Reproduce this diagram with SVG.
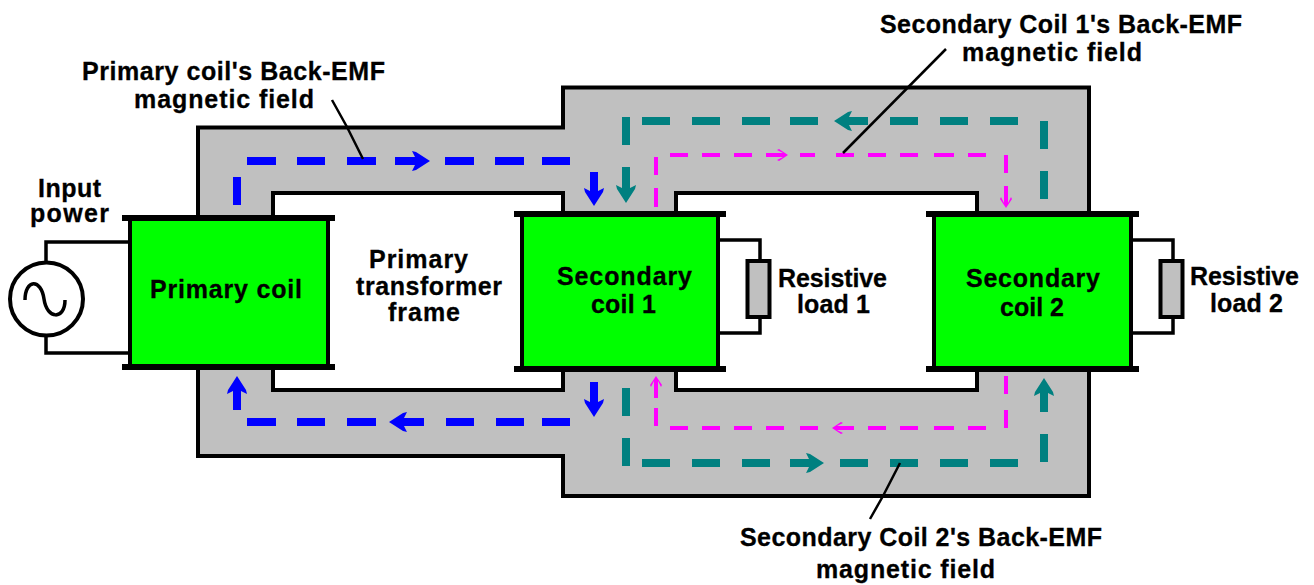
<svg xmlns="http://www.w3.org/2000/svg" width="1314" height="585" viewBox="0 0 1314 585">
<style>
text{font-family:"Liberation Sans",Arial,sans-serif;font-weight:700;font-size:25px;fill:#000;stroke:#000;stroke-width:.3}
.coil{fill:#00ff00;stroke:#000;stroke-width:4}
.bar{fill:#000}
.wire{fill:none;stroke:#000;stroke-width:3.5}
.res{fill:#c0c0c0;stroke:#000;stroke-width:4}
.leader{fill:none;stroke:#000;stroke-width:2.5}
.d{fill:none}
.blue{stroke:#0000ff;stroke-width:8}
.teal{stroke:#008080;stroke-width:8}
.mag{stroke:#ff00ff;stroke-width:4}
</style>
<defs>
<marker id="hb" markerUnits="userSpaceOnUse" markerWidth="40" markerHeight="40" refX="0" refY="0" orient="auto" overflow="visible"><path d="M10 0L-4-9-8-10-5-4V4L-8 10-4 9Z" fill="#0000ff"/></marker>
<marker id="ht" markerUnits="userSpaceOnUse" markerWidth="40" markerHeight="40" refX="0" refY="0" orient="auto" overflow="visible"><path d="M10 0L-4-9-8-10-5-4V4L-8 10-4 9Z" fill="#008080"/></marker>
<marker id="hm" markerUnits="userSpaceOnUse" markerWidth="40" markerHeight="40" refX="0" refY="0" orient="auto" overflow="visible"><path d="M4 0L-5-6-7-5-1-2V2L-7 5-5 6Z" fill="#ff00ff"/></marker>
</defs>
<rect width="1314" height="585" fill="#fff"/>
<g id="frame">
<path d="M198 127.500H563V87.500H1089V496H563V456H198ZM273 193V390H563V193ZM676 193V390H977V193Z" fill="#c0c0c0" fill-rule="evenodd" stroke="#000" stroke-width="4"/>
</g>
<g id="primary-coil">
<rect class="coil" x="130" y="218" width="198" height="149"/>
<rect class="bar" x="122" y="215" width="213" height="6"/>
<rect class="bar" x="122" y="364" width="213" height="6"/>
<text x="150" y="298" textLength="152" lengthAdjust="spacing">Primary coil</text>
</g>
<g id="secondary-coil-1">
<rect class="coil" x="522" y="214" width="196" height="155"/>
<rect class="bar" x="514" y="211" width="212" height="6"/>
<rect class="bar" x="514" y="366" width="212" height="6"/>
<text x="557" y="285" textLength="135" lengthAdjust="spacing">Secondary</text>
<text x="591" y="313" textLength="65" lengthAdjust="spacing">coil 1</text>
</g>
<g id="secondary-coil-2">
<rect class="coil" x="934" y="214" width="197" height="155"/>
<rect class="bar" x="926" y="211" width="213" height="6"/>
<rect class="bar" x="926" y="366" width="213" height="6"/>
<text x="966" y="287" textLength="134" lengthAdjust="spacing">Secondary</text>
<text x="1000" y="316" textLength="64" lengthAdjust="spacing">coil 2</text>
</g>
<g id="source">
<path class="wire" d="M128 242H46V262M46 337V353H128"/>
<circle cx="46.500" cy="299" r="36.500" fill="#fff" stroke="#000" stroke-width="4"/>
<path d="M25 300C25 279 41 278 44 299C47 320 65 320 65 300" fill="none" stroke="#000" stroke-width="3.500"/>
<text x="38" y="197" textLength="63" lengthAdjust="spacing">Input</text>
<text x="30" y="222" textLength="79" lengthAdjust="spacing">power</text>
</g>
<g id="resistive-load-1">
<path class="wire" d="M718 240H760V261M760 317V333H718"/>
<rect class="res" x="747.500" y="261" width="22" height="56"/>
<text x="778" y="287" textLength="109" lengthAdjust="spacing">Resistive</text>
<text x="797" y="313" textLength="73" lengthAdjust="spacing">load 1</text>
</g>
<g id="resistive-load-2">
<path class="wire" d="M1131 240H1173V261M1173 317V333H1131"/>
<rect class="res" x="1160.500" y="261" width="22" height="56"/>
<text x="1190" y="285" textLength="109" lengthAdjust="spacing">Resistive</text>
<text x="1210" y="312" textLength="73" lengthAdjust="spacing">load 2</text>
</g>
<g id="connectors">
<path class="d blue" d="M247 161H276M297 161H325M347 161H376M445 161H474M495 161H524M542 161H570M237 177V205M247 422H276M297 422H325M347 422H376M446 422H474M496 422H524M542 422H570"/>
<path class="d blue" d="M395 161H420" marker-end="url(#hb)"/>
<path class="d blue" d="M424 422H399" marker-end="url(#hb)"/>
<path class="d blue" d="M237 410V386" marker-end="url(#hb)"/>
<path class="d blue" d="M594 172V196" marker-end="url(#hb)"/>
<path class="d blue" d="M594 382V407" marker-end="url(#hb)"/>
<path class="d teal" d="M642 121H670M692 121H720M742 121H770M790 121H818M890 121H918M940 121H968M990 121H1018M626 117V145M1044 121V149M1044 171V199M642 463H670M692 463H720M742 463H770M840 463H868M890 463H918M940 463H968M990 463H1018M626 388V416M626 438V466M1044 434V462"/>
<path class="d teal" d="M868 121H844" marker-end="url(#ht)"/>
<path class="d teal" d="M626 167V193" marker-end="url(#ht)"/>
<path class="d teal" d="M790 463H814" marker-end="url(#ht)"/>
<path class="d teal" d="M1044 412V388" marker-end="url(#ht)"/>
<path class="d mag" d="M670 155H688M702 155H720M734 155H752M800 155H815M836 155H854M868 155H886M900 155H918M934 155H954M968 155H986M1006 155V173M656 157V175M656 188V207M670 428H688M702 428H720M734 428H752M766 428H784M800 428H818M868 428H886M900 428H918M934 428H954M968 428H986M1006 376V394M1006 410V428M656 408V426"/>
<path class="d mag" d="M766 155H784" marker-end="url(#hm)"/>
<path class="d mag" d="M1006 186V204" marker-end="url(#hm)"/>
<path class="d mag" d="M854 428H836" marker-end="url(#hm)"/>
<path class="d mag" d="M656 398V380" marker-end="url(#hm)"/>
<path class="leader" d="M332 100L347 127L363 159"/>
<path class="leader" d="M946 49L843 153"/>
<path class="leader" d="M900 463L883 496L870 519"/>
</g>
<g id="labels">
<text x="82" y="80" textLength="303" lengthAdjust="spacing">Primary coil's Back-EMF</text>
<text x="134" y="108" textLength="180" lengthAdjust="spacing">magnetic field</text>
<text x="369" y="268" textLength="99" lengthAdjust="spacing">Primary</text>
<text x="356" y="295" textLength="146" lengthAdjust="spacing">transformer</text>
<text x="388" y="321" textLength="72" lengthAdjust="spacing">frame</text>
<text x="880" y="33" textLength="362" lengthAdjust="spacing">Secondary Coil 1's Back-EMF</text>
<text x="962" y="61" textLength="180" lengthAdjust="spacing">magnetic field</text>
<text x="740" y="546" textLength="362" lengthAdjust="spacing">Secondary Coil 2's Back-EMF</text>
<text x="816" y="578" textLength="179" lengthAdjust="spacing">magnetic field</text>
</g>
</svg>
